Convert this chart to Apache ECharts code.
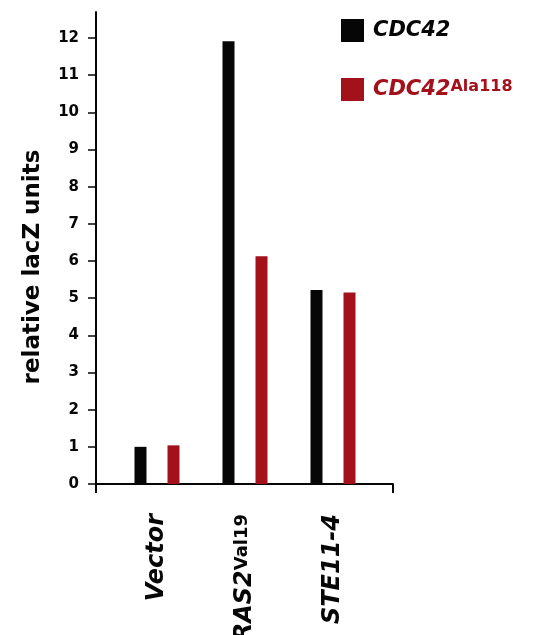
<!DOCTYPE html>
<html>
<head>
<meta charset="utf-8">
<script src="https://cdn.jsdelivr.net/npm/echarts@6/dist/echarts.min.js"></script>
<style>
html, body { margin: 0; padding: 0; background: #fff; }
#chart { width: 552px; height: 635px; }
</style>
</head>
<body>
<div id="chart"></div>
<script>
// data
var categories = ['Vector', 'RAS2^Val19', 'STE11-4'];
var wildType = [1.0, 11.91, 5.22];      // CDC42
var mutant = [1.04, 6.13, 5.15];        // CDC42 Ala118
var seriesNames = ['CDC42', 'CDC42^Ala118'];
var yTicks = [0, 1, 2, 3, 4, 5, 6, 7, 8, 9, 10, 11, 12];
var yMax = 12.7;

var BLACK = '#060606';
var RED = '#a3121b';
var FONT = '"DejaVu Sans", sans-serif';

// "A^B" -> rich text with B as superscript
function richLabel(txt, main, sup) {
	var p = txt.split('^');
	return '{' + main + '|' + p[0] + '}' + (p[1] ? '{' + sup + '|' + p[1] + '}' : '');
}

var myChart = echarts.init(document.getElementById('chart'));
var option = {
	animation: false,
	backgroundColor: '#fff',
	grid: [
		// bars; labels are allowed to run off the bottom like in the figure
		{ left: 113, right: 175, top: 12, bottom: 151, outerBoundsMode: 'none', containLabel: false },
		// visible axes
		{ left: 96, right: 159, top: 12, bottom: 151, outerBoundsMode: 'none', containLabel: false }
	],
	legend: {
		left: 336,
		top: 14,
		orient: 'vertical',
		icon: 'rect',
		itemWidth: 23,
		itemHeight: 23,
		itemGap: 36,
		data: seriesNames,
		formatter: function (name) {
			return name.indexOf('^') > -1 ? richLabel(name, 'r', 's') : richLabel(name, 'k', 's');
		},
		textStyle: {
			padding: [0, 0, 0, 4],
			rich: {
				k: { color: BLACK, fontFamily: FONT, fontSize: 21, fontWeight: 'bold', fontStyle: 'italic' },
				r: { color: RED, fontFamily: FONT, fontSize: 21, fontWeight: 'bold', fontStyle: 'italic' },
				s: { color: RED, fontFamily: FONT, fontSize: 16, fontWeight: 'bold', verticalAlign: 'top', padding: [0, 0, 6, 0] }
			}
		}
	},
	xAxis: [
		{
			gridIndex: 0,
			type: 'category',
			data: categories,
			axisLine: { show: false },
			axisTick: { show: false },
			axisLabel: {
				rotate: 90,
				margin: 30,
				formatter: function (v) { return richLabel(v, 'm', 'u'); },
				rich: {
					m: { color: BLACK, fontFamily: FONT, fontSize: 24, fontWeight: 'bold', fontStyle: 'italic' },
					u: { color: BLACK, fontFamily: FONT, fontSize: 18, fontWeight: 'bold', verticalAlign: 'top' }
				}
			}
		},
		{
			gridIndex: 1,
			type: 'value',
			min: 0,
			max: 1,
			interval: 1,
			axisLine: { lineStyle: { color: BLACK, width: 2 } },
			axisTick: { inside: false, length: 9, lineStyle: { color: BLACK, width: 2 } },
			axisLabel: { show: false },
			splitLine: { show: false }
		}
	],
	yAxis: [
		{
			gridIndex: 0,
			type: 'value',
			min: 0,
			max: yMax,
			show: false
		},
		{
			gridIndex: 1,
			type: 'value',
			min: 0,
			max: yMax,
			interval: 1,
			axisLine: { show: true, lineStyle: { color: BLACK, width: 2 } },
			axisTick: { show: true, length: 8, customValues: yTicks, lineStyle: { color: BLACK, width: 1.5 } },
			axisLabel: {
				customValues: yTicks,
				margin: 17,
				color: BLACK,
				fontFamily: FONT,
				fontSize: 15,
				fontWeight: 'bold'
			},
			splitLine: { show: false }
		}
	],
	graphic: [{
		type: 'text',
		x: 33,
		y: 267,
		rotation: Math.PI / 2,
		style: {
			text: 'relative lacZ units',
			fill: BLACK,
			font: 'bold 23px "DejaVu Sans", sans-serif',
			textAlign: 'center',
			textVerticalAlign: 'middle'
		}
	}],
	series: [
		{
			name: seriesNames[0],
			type: 'bar',
			xAxisIndex: 0,
			yAxisIndex: 0,
			data: wildType,
			barWidth: 12,
			barGap: '175%',
			itemStyle: { color: BLACK }
		},
		{
			name: seriesNames[1],
			type: 'bar',
			xAxisIndex: 0,
			yAxisIndex: 0,
			data: mutant,
			barWidth: 12,
			barGap: '175%',
			itemStyle: { color: RED }
		}
	]
};
myChart.setOption(option);
</script>
</body>
</html>
